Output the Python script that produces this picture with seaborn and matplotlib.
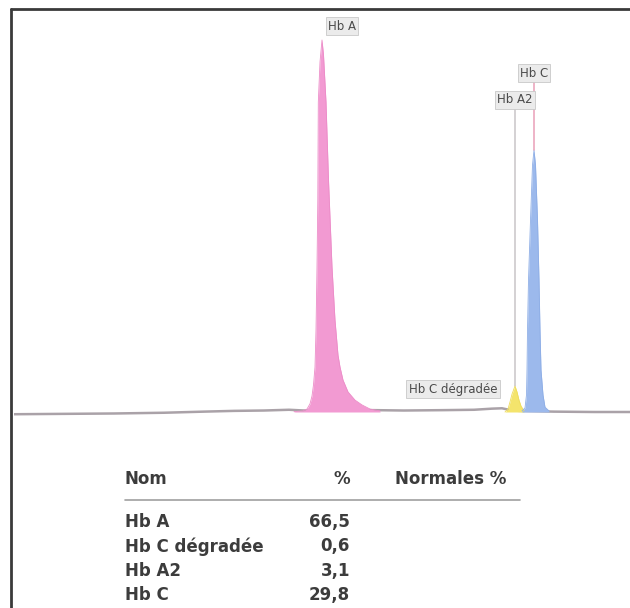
import matplotlib
matplotlib.use("Agg")
import matplotlib.pyplot as plt
from matplotlib.lines import Line2D
import seaborn as sns
import pandas as pd

# electrophoresis trace, x = migration position, y = % of the Hb A peak height
base_x = [0, 50, 100, 150, 190, 220, 250, 275, 290, 360, 390, 430, 460, 478, 488, 495, 505, 540, 580, 616]
base_y = [-0.6, -0.5, -0.4, -0.2, 0.1, 0.3, 0.4, 0.6, 0.4, 0.5, 0.4, 0.5, 0.6, 0.9, 1.0, 0.6, 0.3, 0.1, 0.0, 0.0]

hba_x = [280, 289, 293, 296, 298, 299.5, 301, 302, 303, 303.8, 304.3, 306, 308,
         309.5, 312, 314.5, 318, 321, 324, 326, 329, 334, 341, 348, 356, 366]
hba_y = [0.1, 0.3, 0.8, 2.2, 4.3, 7.3, 12.1, 22.0, 39.0, 57.0, 83.3, 94.1, 100,
         96.0, 83.3, 62.4, 39.0, 24.7, 15.3, 12.1, 8.6, 5.4, 3.2, 1.9, 0.8, 0.3]

hba2_x = [491, 494, 496, 498, 501, 503, 505, 507, 510]
hba2_y = [0.0, 0.8, 2.7, 4.8, 7.0, 5.4, 3.2, 1.6, 0.3]

hbc_x = [508, 511, 512.5, 513, 513.5, 514.5, 516.5, 518.5, 520, 521.5, 523.5, 525, 526, 527, 529, 531, 535]
hbc_y = [0.3, 1.1, 4.6, 11.3, 22.0, 35.5, 51.6, 66.4, 70.4, 66.4, 51.6, 35.5, 22.0, 11.3, 4.6, 1.3, 0.3]

# table
noms = ["Hb A", "Hb C dégradée", "Hb A2", "Hb C"]
pourcents = ["66,5", "0,6", "3,1", "29,8"]

sns.set_theme(style="white")
plt.rcParams['font.family'] = ['DejaVu Sans']

W, H = 630, 608
fig = plt.figure(figsize=(W / 100, H / 100), dpi=100)
fig.patch.set_facecolor("white")

def fx(px):
    return px / W

def fy(py):
    return 1 - py / H

# axes: x 0..616 over px 14..630, y 0 at px 412 and 100 at px 40
ax = fig.add_axes([fx(14), fy(420), fx(630) - fx(14), fy(30) - fy(420)])
ax.set_xlim(0, 616)
ax.set_ylim(-8 / 3.72, 100 + 10 / 3.72)
ax.set_axis_off()

peaks = [
    (hba_x, hba_y, "#f29ad2", "#ec8cc8"),
    (hba2_x, hba2_y, "#f4e46c", "#eedc5c"),
    (hbc_x, hbc_y, "#9cb9ec", "#8eaee6"),
]

sns.lineplot(x=base_x, y=base_y, ax=ax, color="#aaa2a8", lw=1.8, sort=False)
for px_, py_, fill, edge in peaks:
    ax.fill_between(px_, 0, py_, color=fill, lw=0, zorder=2)
    sns.lineplot(x=px_, y=py_, ax=ax, color=edge, lw=0.6, sort=False, zorder=3)

box = dict(boxstyle="square,pad=0.2", fc="#ebebeb", ec="#c8c8c8", lw=0.6)
lab = dict(fontsize=8.5, color="#4a4a4a", textcoords="offset pixels", annotation_clip=False,
           ha="center", va="center")

# peak labels
ax.annotate("Hb A", xy=(hba_x[12], hba_y[12]), xytext=(20, 14), bbox=box, **lab)
ax.annotate("Hb C", xy=(hbc_x[8], hbc_y[8]), xytext=(0, 77), bbox=box,
            arrowprops=dict(arrowstyle="-", color="#e58aa8", lw=0.9, shrinkA=0, shrinkB=0), **lab)
ax.annotate("Hb A2", xy=(hba2_x[4], hba2_y[4]), xytext=(0, 286), bbox=box,
            arrowprops=dict(arrowstyle="-", color="#bdb8bb", lw=0.9, shrinkA=0, shrinkB=0), zorder=5, **lab)
ax.annotate("Hb C dégradée", xy=(base_x[14], base_y[14]), xytext=(-49, 19), bbox=box, **lab)

# outer frame
fig.add_artist(Line2D([fx(11), fx(11)], [fy(9), 0], color="#3a3a3a", lw=2, transform=fig.transFigure))
fig.add_artist(Line2D([fx(11), 1], [fy(9), fy(9)], color="#3a3a3a", lw=2, transform=fig.transFigure))

# results table
tcol = "#3c3c3c"
tfont = dict(fontsize=12, fontweight="bold", color=tcol, va="center")
fig.text(fx(125), fy(479), "Nom", ha="left", **tfont)
fig.text(fx(350), fy(479), "%", ha="right", **tfont)
fig.text(fx(395), fy(479), "Normales %", ha="left", **tfont)
fig.add_artist(Line2D([fx(125), fx(520)], [fy(500), fy(500)], color="#a0a0a0", lw=1.2,
                      transform=fig.transFigure))

rows = pd.DataFrame({"nom": noms, "pct": pourcents})
for i, r in rows.iterrows():
    yy = fy(522 + i * 24.3)
    fig.text(fx(125), yy, r.nom, ha="left", **tfont)
    fig.text(fx(350), yy, r.pct, ha="right", **tfont)

fig.savefig("out.png", dpi=100)
